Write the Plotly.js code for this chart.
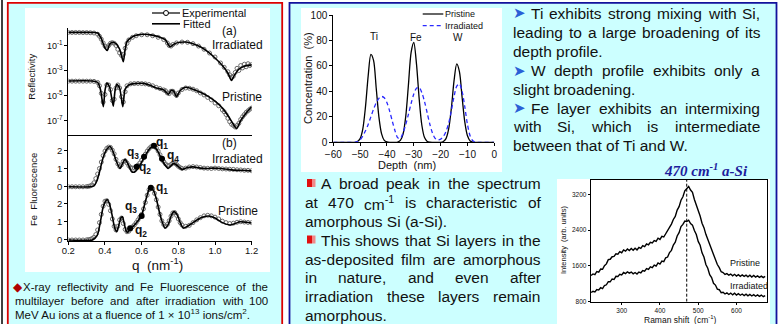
<!DOCTYPE html>
<html>
<head>
<meta charset="utf-8">
<script src="https://cdn.plot.ly/plotly-3.0.1.min.js"></script>
<style>html,body{margin:0;padding:0;background:#fff;}#chart{width:781px;height:324px;}</style>
</head>
<body>
<div id="chart"></div>
<script>
// ---------------- DATA ----------------
// (a) X-ray reflectivity
const reflIrrExpQ = [0.20,0.22,0.24,0.26,0.28,0.30,0.32,0.34,0.36,0.37,0.38,0.39,0.40,0.41,0.42,0.43,0.44,0.45,0.46,0.47,0.48,0.49,0.50,0.51,0.52,0.53,0.55,0.57,0.60,0.63,0.66,0.69,0.72,0.74,0.75,0.76,0.77,0.79,0.82,0.85,0.88,0.91,0.94,0.97,1.00,1.03,1.05,1.07,1.08,1.09,1.10,1.11,1.12,1.13,1.14,1.15,1.16,1.17,1.18,1.19,1.20];
const reflIrrExp = [1.1,1.1,1.1,1.1,1.08,1.08,1.05,1.0,0.8,0.55,0.32,0.16,0.09,0.07,0.1,0.15,0.17,0.15,0.1,0.05,0.025,0.016,0.02,0.06,0.15,0.28,0.45,0.6,0.72,0.72,0.6,0.45,0.3,0.16,0.1,0.09,0.12,0.16,0.19,0.18,0.14,0.09,0.05,0.025,0.012,0.004,0.0018,0.0008,0.00045,0.0003,0.00035,0.0007,0.0015,0.001,0.0025,0.0016,0.0032,0.002,0.0035,0.0025,0.003];
const reflIrrFitQ = [0.20,0.30,0.34,0.36,0.38,0.40,0.413,0.425,0.443,0.46,0.48,0.50,0.51,0.52,0.55,0.58,0.61,0.65,0.70,0.73,0.755,0.78,0.81,0.84,0.88,0.92,0.96,1.00,1.04,1.07,1.09,1.105,1.13,1.16,1.20];
const reflIrrFit = [1.12,1.12,1.1,1.0,0.35,0.063,0.04,0.126,0.18,0.14,0.05,0.005,0.05,0.2,0.5,0.71,0.79,0.71,0.45,0.28,0.079,0.14,0.18,0.19,0.14,0.079,0.032,0.01,0.0025,0.00063,0.00016,0.0004,0.00126,0.0022,0.0028];
const reflPriExpQ = [0.20,0.22,0.24,0.26,0.28,0.30,0.32,0.34,0.36,0.37,0.38,0.39,0.40,0.41,0.42,0.43,0.44,0.45,0.46,0.47,0.48,0.49,0.50,0.51,0.52,0.54,0.56,0.58,0.60,0.62,0.64,0.66,0.68,0.70,0.72,0.73,0.74,0.75,0.76,0.77,0.78,0.79,0.80,0.82,0.84,0.86,0.88,0.90,0.92,0.94,0.96,0.98,1.00,1.02,1.04,1.05,1.06,1.07,1.08,1.09,1.10,1.11,1.12,1.13,1.14,1.15,1.16,1.17,1.18,1.19,1.20];
const reflPriExp = [1.4e-4,1.4e-4,1.4e-4,1.4e-4,1.4e-4,1.4e-4,1.4e-4,1.35e-4,1.1e-4,6e-5,1.5e-5,3e-6,1.2e-5,7e-5,7e-5,3e-5,4e-6,5e-6,4e-5,7e-5,4e-5,8e-6,3e-6,2e-5,6e-5,8.5e-5,9e-5,9.2e-5,9e-5,8.5e-5,7.5e-5,6e-5,4.5e-5,3.6e-5,2.8e-5,2.4e-5,1.6e-5,1.4e-5,2.2e-5,2.2e-5,1.4e-5,1e-5,1.6e-5,3e-5,4e-5,3.8e-5,3.2e-5,2.4e-5,1.6e-5,1.1e-5,7e-6,4.5e-6,2.5e-6,1.5e-6,7e-7,5e-7,3e-7,1.5e-7,8e-8,5e-8,4e-8,3e-8,4e-8,6e-8,1.2e-7,2e-7,3e-7,4.5e-7,6e-7,8e-7,1e-6];
const reflPriFitQ = [0.20,0.33,0.36,0.375,0.391,0.40,0.41,0.425,0.445,0.455,0.465,0.48,0.497,0.51,0.53,0.56,0.61,0.65,0.68,0.72,0.745,0.76,0.775,0.79,0.81,0.84,0.88,0.92,0.96,1.00,1.04,1.07,1.10,1.118,1.14,1.17,1.20];
const reflPriFit = [1.45e-4,1.45e-4,1.12e-4,3.2e-5,1.26e-6,2.5e-5,1e-4,5e-5,1.4e-6,2.5e-5,7.9e-5,4e-5,1.26e-6,3.2e-5,7.1e-5,8.9e-5,9.3e-5,6.3e-5,4e-5,2.8e-5,1.26e-5,2.5e-5,2.2e-5,7.9e-6,2.5e-5,4.5e-5,3.2e-5,1.8e-5,8.9e-6,3.5e-6,1e-6,2.5e-7,5e-8,2.2e-8,1e-7,4e-7,1.26e-6];
const reflTickVals = [1e-1,1e-3,1e-5,1e-7];
const reflTickText = ['10<sup>-1</sup>','10<sup>-3</sup>','10<sup>-5</sup>','10<sup>-7</sup>'];

// (b) Fe fluorescence
const fluExpQ = [0.20,0.22,0.24,0.26,0.28,0.30,0.31,0.32,0.33,0.34,0.35,0.36,0.37,0.38,0.39,0.40,0.41,0.42,0.43,0.44,0.45,0.46,0.47,0.48,0.49,0.50,0.51,0.52,0.53,0.54,0.55,0.56,0.57,0.58,0.59,0.60,0.61,0.62,0.63,0.64,0.65,0.66,0.67,0.68,0.69,0.70,0.71,0.72,0.73,0.74,0.75,0.76,0.77,0.78,0.79,0.80,0.81,0.82,0.84,0.86,0.88,0.90,0.92,0.94,0.96,0.98,1.00,1.02,1.04,1.06,1.08,1.10,1.12,1.14,1.16,1.18,1.20];
const fluIrrExp = [0,0,0,0,0,0.01,0.02,0.05,0.1,0.22,0.45,0.7,1.0,1.35,1.7,1.95,2.1,2.17,2.15,2.0,1.8,1.5,1.25,1.1,1.2,1.38,1.42,1.3,1.15,1.05,1.02,1.03,1.08,1.18,1.3,1.45,1.6,1.78,1.95,2.08,2.18,2.24,2.23,2.12,1.95,1.75,1.55,1.38,1.25,1.17,1.15,1.22,1.3,1.3,1.22,1.12,1.05,1.0,1.02,1.08,1.1,1.08,1.05,1.02,1.01,1.0,1.02,1.0,0.98,0.97,0.96,0.95,0.93,0.92,0.9,0.9,0.88];
const fluPriExp = [0,0,0,0,0,0.01,0.02,0.04,0.08,0.15,0.3,0.55,0.95,1.4,1.85,2.12,2.15,1.95,1.6,1.15,0.75,0.55,0.75,1.1,1.2,0.9,0.58,0.45,0.48,0.6,0.72,0.82,0.95,1.1,1.25,1.4,1.7,2.05,2.45,2.75,2.85,2.8,2.55,2.2,1.8,1.4,1.05,0.85,0.75,0.85,1.05,1.3,1.48,1.5,1.35,1.15,0.95,0.82,0.75,0.8,0.95,1.1,1.22,1.32,1.35,1.32,1.25,1.15,1.03,0.95,0.9,0.92,0.97,1.0,0.98,0.96,0.95];
const fluIrrFitQ = [0.20,0.32,0.34,0.355,0.37,0.39,0.41,0.428,0.445,0.46,0.482,0.497,0.51,0.525,0.546,0.56,0.58,0.60,0.625,0.645,0.664,0.685,0.70,0.72,0.745,0.76,0.775,0.795,0.82,0.85,0.88,0.92,0.955,0.99,1.03,1.07,1.10,1.15,1.20];
const fluIrrFit = [0,0,0.05,0.3,0.8,1.6,2.05,2.2,1.9,1.45,1.0,1.3,1.5,1.25,0.82,0.8,1.0,1.35,1.8,2.1,2.2,2.0,1.7,1.3,1.0,1.15,1.28,1.15,0.95,1.05,1.09,1.02,1.0,1.02,1.0,0.95,0.91,0.9,0.87];
const fluPriFitQ = [0.20,0.33,0.345,0.36,0.375,0.39,0.405,0.413,0.425,0.44,0.452,0.464,0.475,0.487,0.495,0.505,0.515,0.522,0.535,0.555,0.58,0.60,0.62,0.64,0.65,0.665,0.68,0.695,0.71,0.727,0.745,0.762,0.777,0.795,0.81,0.827,0.85,0.88,0.92,0.964,1.00,1.04,1.082,1.11,1.136,1.17,1.20];
const fluPriFit = [0,0,0.1,0.3,1.0,1.8,2.15,2.2,1.95,1.3,0.7,0.45,0.8,1.22,1.27,0.9,0.5,0.42,0.55,0.75,1.05,1.35,2.1,2.75,2.86,2.7,2.25,1.6,1.05,0.65,0.85,1.35,1.55,1.35,0.95,0.65,0.75,0.95,1.2,1.31,1.2,0.95,0.82,0.9,1.0,0.97,0.93];
const qPtsIrr = [0.573,0.613,0.667,0.711];
const vPtsIrr = [1.09,1.64,2.24,1.53];
const qPtsIrrLabels = ['q<sub>2</sub>','q<sub>3</sub>','q<sub>1</sub>','q<sub>4</sub>'];
const qPtsPri = [0.537,0.600,0.650];
const vPtsPri = [0.64,1.31,2.86];
const qPtsPriLabels = ['q<sub>2</sub>','q<sub>3</sub>','q<sub>1</sub>'];
const fluTickVals = [0,1,2];
const fluTickText = ['0','1','2'];
const qTickVals = [0.2,0.4,0.6,0.8,1.0,1.2];

// Concentration depth profile
const depth = [-60,-59,-58,-57,-56,-55,-54,-53,-52,-51,-50,-49,-48,-47,-46,-45,-44,-43,-42,-41,-40,-39,-38,-37,-36,-35,-34,-33,-32,-31,-30,-29,-28,-27,-26,-25,-24,-23,-22,-21,-20,-19,-18,-17,-16,-15,-14,-13,-12,-11,-10,-9,-8,-7,-6,-5,-4,-3,-2,-1,0];
const concPristine = [0,0,0,0,0,0,0,0,0,0.6,2.9,10.6,28,52.2,69,64.3,42.5,19.8,6.6,1.5,0.3,0,0,0,0.2,1.5,6.5,20.4,45.1,70.7,78.4,61.6,34.2,13.4,3.7,0.7,0.1,0,0,0,0,0.6,2.9,10.5,26.8,48.4,61.6,55.5,35.4,16,5.1,1.1,0.2,0,0,0,0,0,0,0,0];
const concIrradiated = [0,0,0,0,0,0,0,0,0,0.5,2,5,9,14,20,26,31,34.5,36,35,31,24.5,16.5,9,3.5,3,7.5,14,22,30.5,38,42.5,43,39,32,23,14,7,3,1.8,2.5,4.5,8.5,15,25,36,44,46,40,28,14,5,1.2,0.2,0,0,0,0,0,0,0];
const elementLabels = ['Ti','Fe','W'];

// Raman
const ramanShift = [220,225,230,235,240,245,250,255,260,265,270,275,280,285,290,295,300,305,310,315,320,325,330,335,340,345,350,355,360,365,370,375,380,385,390,395,400,405,410,415,420,425,430,435,440,445,450,455,460,465,470,475,480,485,490,495,500,505,510,515,520,525,530,535,540,545,550,555,560,565,570,575,580,585,590,595,600,605,610,615,620,625,630,635,640,645,650,655,660,665,670,675];
const ramanPristine = [1385,1420,1405,1475,1462,1530,1525,1605,1645,1740,1748,1805,1812,1870,1862,1918,1895,1958,1930,1978,1942,1988,1948,1995,1958,2012,1990,2052,2030,2090,2072,2128,2115,2168,2150,2218,2192,2262,2246,2322,2372,2478,2535,2638,2705,2848,2925,3068,3145,3278,3318,3376,3295,3245,3085,2975,2835,2715,2555,2455,2305,2195,2050,1945,1820,1735,1630,1560,1470,1452,1408,1428,1392,1418,1378,1412,1372,1404,1368,1398,1366,1394,1358,1392,1352,1386,1350,1378,1344,1372,1338,1366];
const ramanIrradiated = [1005,1032,1018,1072,1060,1112,1092,1162,1178,1248,1245,1308,1296,1368,1365,1412,1396,1452,1428,1468,1438,1462,1422,1452,1418,1462,1446,1498,1482,1538,1522,1578,1562,1618,1598,1668,1642,1708,1696,1782,1798,1898,1948,2068,2128,2268,2342,2478,2528,2602,2592,2622,2548,2512,2392,2302,2148,2062,1892,1798,1632,1548,1402,1338,1212,1172,1082,1068,1002,1012,972,998,962,992,952,988,948,978,944,972,938,968,932,962,928,958,922,952,918,948,912,938];
const ramanPeak = 470;
const ramanTickVals = [300,400,500,600];
const ramanYTickVals = [800,1600,2400,3200];

// Text
const rightText = ['Ti exhibits strong mixing with Si,','leading to a large broadening of its','depth profile.','W depth profile exhibits only a','slight broadening.','Fe layer exhibits an intermixing','with Si, which is intermediate','between that of Ti and W.'];
const middleText = ['A broad peak in the spectrum','at 470 cm<sup>-1</sup> is characteristic of','amorphous Si (a-Si).','This shows that Si layers in the','as-deposited film are amorphous','in nature, and even after','irradiation these layers remain','amorphous.'];
const leftCaption = ['X-ray reflectivity and Fe Fluorescence of the','multilayer before and after irradiation with 100','MeV Au ions at a fluence of 1 × 10<sup>13</sup> ions/cm<sup>2</sup>.'];

// ---------------- LAYOUT HELPERS ----------------
const W = 781, H = 324;
const X = v => v / W;
const Y = v => 1 - v / H;
const FONT = 'Liberation Sans, Arial, sans-serif';
const IRR_OFFSET = 2.91;

const shapes = [];
const annotations = [];
const ctx = document.createElement('canvas').getContext('2d');
function textWidth(html, size, bold) {
  let w = 0;
  html.split(/(<sup>.*?<\/sup>)/).forEach(p => {
    if (!p) return;
    let s = size, t = p;
    if (p.indexOf('<sup>') === 0) { s = size * 0.7; t = p.replace(/<\/?sup>/g, ''); }
    ctx.font = (bold ? 'bold ' : '') + s + 'px "Liberation Sans"';
    w += ctx.measureText(t).width;
  });
  return w;
}
function ann(text, x, y, size, opts) {
  annotations.push(Object.assign({
    text: text, x: X(x), y: Y(y), xref: 'paper', yref: 'paper', showarrow: false,
    xanchor: 'left', yanchor: 'middle', borderpad: 0, borderwidth: 0,
    font: { family: FONT, size: size, color: '#111' }
  }, opts || {}));
}
function textLine(text, x0, x1, y, size, justify) {
  if (!justify) { ann(text, x0, y, size); return; }
  const words = text.split(' ');
  const ws = words.map(w => textWidth(w, size));
  const sum = ws.reduce((a, b) => a + b, 0);
  const gap = (x1 - x0 - sum) / (words.length - 1);
  let x = x0;
  words.forEach((w, i) => { ann(w, x, y, size); x += ws[i] + gap; });
}
function rect(x0, y0, x1, y1, fill, lineColor, lw) {
  shapes.push({ type: 'rect', xref: 'paper', yref: 'paper', layer: 'below',
    x0: X(x0), x1: X(x1), y0: Y(y0), y1: Y(y1), fillcolor: fill,
    line: { color: lineColor || 'rgba(0,0,0,0)', width: lw || 0 } });
}
function pline(x0, y0, x1, y1, color, width, dash) {
  shapes.push({ type: 'line', xref: 'paper', yref: 'paper', layer: 'above',
    x0: X(x0), x1: X(x1), y0: Y(y0), y1: Y(y1), line: { color: color, width: width, dash: dash || 'solid' } });
}

// ---------------- BACKGROUND PANELS ----------------
const CYAN = '#ccffff';
shapes.push({ type: 'line', xref: 'paper', yref: 'paper', layer: 'below', x0: X(2), x1: X(2), y0: Y(0), y1: Y(324), line: { color: '#000', width: 1.5 } });
rect(7.8, 2.8, 282.2, 340, CYAN, '#dd0000', 1.8);
rect(289.5, 2.8, 776.5, 340, CYAN, '#12129c', 1.8);
rect(25, 8, 270, 272, '#ffffff');
rect(301, 8, 502, 172, '#ffffff');
rect(557, 179, 770, 330, '#ffffff');

// ---------------- TEXT BLOCKS ----------------
// right text
const rY = [13.3, 32.3, 51, 70.7, 89.3, 108.3, 126.7, 145.7];
const rJust = [true, true, false, true, false, true, true, false];
const rBullet = [true, false, false, true, false, true, false, false];
rightText.forEach((t, i) => {
  const x0 = rBullet[i] ? 530.7 : 513.3;
  textLine(t, x0, 760, rY[i], 15.5, rJust[i]);
  if (rBullet[i]) ann('➤', 519.5, rY[i], 15, { xanchor: 'center', font: { family: 'DejaVu Sans', size: 15, color: '#2b5fd6' } });
});
// middle text
const mY = [183.5, 202.5, 221, 240, 259.3, 277.5, 296, 315];
const mJust = [true, true, false, true, true, true, true, false];
const mBullet = [true, false, false, true, false, false, false, false];
middleText.forEach((t, i) => {
  const x0 = mBullet[i] ? 320.7 : 305;
  textLine(t, x0, 540.7, mY[i], 15.5, mJust[i]);
  if (mBullet[i]) {
    rect(307, mY[i] - 4.5, 312, mY[i] + 3.5, '#e01010');
    rect(312, mY[i] - 4.5, 315.5, mY[i] + 3.5, '#f08a8a');
  }
});
// left caption
const cY = [287, 300.5, 314];
leftCaption.forEach((t, i) => {
  textLine(t, i === 0 ? 22.7 : 15, 268.3, cY[i], 11.5, i < 2);
});
ann('◆', 17.5, cY[0], 12, { xanchor: 'center', font: { family: 'DejaVu Sans', size: 12, color: '#b00000' } });

// ---------------- LEFT FIGURE LABELS ----------------
const LBL = { family: FONT, size: 12, color: '#111' };
const LEG = { family: FONT, size: 11, color: '#111' };
pline(152, 13, 180, 13, '#000', 1.2);
shapes.push({ type: 'circle', xref: 'paper', yref: 'paper', x0: X(163.5), x1: X(168.5), y0: Y(15.5), y1: Y(10.5), fillcolor: '#fff', line: { color: '#000', width: 1 } });
pline(152, 23.8, 180, 23.8, '#000', 1.6);
ann('Experimental', 181.7, 13, 11, { font: LEG });
ann('Fitted', 183, 24, 11, { font: LEG });
ann('(a)', 229, 31.5, 11.5, { xanchor: 'center', font: LBL });
ann('Irradiated', 237, 44.5, 12, { xanchor: 'center', font: LBL });
ann('Pristine', 242, 97, 12, { xanchor: 'center', font: LBL });
ann('(b)', 229, 143, 11.5, { xanchor: 'center', font: LBL });
ann('Irradiated', 237.5, 159, 12, { xanchor: 'center', font: LBL });
ann('Pristine', 238, 211, 12, { xanchor: 'center', font: LBL });
const qLblIrrPos = [[145, 168.3], [132.5, 152.5], [162, 142.7], [173, 155.8]];
const qLblPriPos = [[141, 231], [130.5, 207], [162, 188]];
qPtsIrrLabels.forEach((t, i) => ann('<b>' + t + '</b>', qLblIrrPos[i][0], qLblIrrPos[i][1], 12, { xanchor: 'center', font: LBL }));
qPtsPriLabels.forEach((t, i) => ann('<b>' + t + '</b>', qLblPriPos[i][0], qLblPriPos[i][1], 12, { xanchor: 'center', font: LBL }));
ann('Reflectivity', 31.7, 77, 9.5, { xanchor: 'center', textangle: -90 });
ann('Fe\u00a0\u00a0Fluorescence', 33, 190, 9.5, { xanchor: 'center', textangle: -90 });
ann('q\u00a0\u00a0(nm<sup>-1</sup>)', 157, 264, 13.5, { xanchor: 'center' });

// ---------------- CONCENTRATION LABELS ----------------
pline(422.7, 14, 443.3, 14, '#000', 1.2);
pline(422.7, 25.7, 443.3, 25.7, '#2a2aff', 1.2, '4px,3px');
ann('Pristine', 445, 14, 9);
ann('Irradiated', 445, 25.7, 9);
const elemPos = [[374, 37], [416, 37.3], [457.7, 37.3]];
elementLabels.forEach((t, i) => ann(t, elemPos[i][0], elemPos[i][1], 10, { xanchor: 'center' }));
ann('Concentration\u00a0\u00a0(%)', 308, 78, 11, { xanchor: 'center', textangle: -90 });
ann('Depth\u00a0\u00a0(nm)', 406.7, 165, 11, { xanchor: 'center' });

// ---------------- RAMAN LABELS ----------------
ann('<b><i>470 cm<sup>-1</sup> a-Si</i></b>', 705.7, 170, 15, { xanchor: 'center', font: { family: 'Liberation Serif, Times New Roman, serif', size: 15, color: '#1c1c9c' } });
ann('Pristine', 745.3, 262.7, 9, { xanchor: 'center' });
ann('Irradiated', 749, 285.7, 9, { xanchor: 'center' });
ann('Intensity\u00a0\u00a0(arb. units)', 563, 240, 7.5, { xanchor: 'center', textangle: -90 });
ann('Raman shift\u00a0\u00a0(cm<sup>-1</sup>)', 680, 319, 8.5, { xanchor: 'center' });
shapes.push({ type: 'line', xref: 'x4', yref: 'y4', x0: ramanPeak, x1: ramanPeak, y0: 800, y1: 3520, line: { color: '#000', width: 1, dash: '3px,2px' } });

// ---------------- TRACES ----------------
const expMarker = { symbol: 'circle-open', size: 4, color: '#6a6a6a', line: { width: 1 } };
const fitLine = { color: '#000', width: 1.6, shape: 'spline', smoothing: 0.6 };
const add = (a, k) => a.map(v => v + k);
const traces = [
  { x: reflIrrExpQ, y: reflIrrExp, xaxis: 'x2', yaxis: 'y', mode: 'markers', marker: expMarker },
  { x: reflPriExpQ, y: reflPriExp, xaxis: 'x2', yaxis: 'y', mode: 'markers', marker: expMarker },
  { x: reflIrrFitQ, y: reflIrrFit, xaxis: 'x2', yaxis: 'y', mode: 'lines', line: fitLine },
  { x: reflPriFitQ, y: reflPriFit, xaxis: 'x2', yaxis: 'y', mode: 'lines', line: fitLine },
  { x: fluExpQ, y: add(fluIrrExp, IRR_OFFSET), xaxis: 'x', yaxis: 'y2', mode: 'markers', marker: expMarker },
  { x: fluExpQ, y: fluPriExp, xaxis: 'x', yaxis: 'y2', mode: 'markers', marker: expMarker },
  { x: fluIrrFitQ, y: add(fluIrrFit, IRR_OFFSET), xaxis: 'x', yaxis: 'y2', mode: 'lines', line: fitLine },
  { x: fluPriFitQ, y: fluPriFit, xaxis: 'x', yaxis: 'y2', mode: 'lines', line: fitLine },
  { x: qPtsIrr, y: add(vPtsIrr, IRR_OFFSET), xaxis: 'x', yaxis: 'y2', mode: 'markers', marker: { color: '#000', size: 6 } },
  { x: qPtsPri, y: vPtsPri, xaxis: 'x', yaxis: 'y2', mode: 'markers', marker: { color: '#000', size: 6 } },
  { x: depth, y: concPristine, xaxis: 'x3', yaxis: 'y3', mode: 'lines', line: { color: '#000', width: 1.3, shape: 'spline', smoothing: 0.8 } },
  { x: depth, y: concIrradiated, xaxis: 'x3', yaxis: 'y3', mode: 'lines', line: { color: '#2a2aff', width: 1.3, dash: '4px,3px', shape: 'spline', smoothing: 0.8 } },
  { x: ramanShift, y: ramanPristine, xaxis: 'x4', yaxis: 'y4', mode: 'lines', line: { color: '#000', width: 1.4 } },
  { x: ramanShift, y: ramanIrradiated, xaxis: 'x4', yaxis: 'y4', mode: 'lines', line: { color: '#000', width: 1.4 } }
];

const axBase = { showline: true, linecolor: '#000', linewidth: 1, ticks: 'outside', ticklen: 3, tickwidth: 1, tickcolor: '#000', showgrid: false, zeroline: false, fixedrange: true };
const layout = {
  width: W, height: H, margin: { l: 0, r: 0, t: 0, b: 0 },
  paper_bgcolor: '#ffffff', plot_bgcolor: 'rgba(0,0,0,0)', showlegend: false,
  font: { family: FONT, color: '#111' },
  xaxis: Object.assign({}, axBase, { domain: [X(68.3), X(251.7)], range: [0.2, 1.2], anchor: 'y2', tickvals: qTickVals, tickformat: '.1f', ticklabelstandoff: -2, tickfont: { size: 9.5 } }),
  xaxis2: Object.assign({}, axBase, { domain: [X(68.3), X(251.7)], range: [0.2, 1.2], anchor: 'y', showticklabels: false, ticks: '' }),
  yaxis: Object.assign({}, axBase, { domain: [Y(135), Y(28)], type: 'log', range: [-8.16, 0.4], anchor: 'x2', tickvals: reflTickVals, ticktext: reflTickText, tickfont: { size: 9 } }),
  yaxis2: Object.assign({}, axBase, { domain: [Y(241), Y(135)], range: [-0.055, 5.74], anchor: 'x',
    tickvals: fluTickVals.concat(add(fluTickVals, IRR_OFFSET)), ticktext: fluTickText.concat(fluTickText), tickfont: { size: 9.5 } }),
  xaxis3: Object.assign({}, axBase, { domain: [X(333.3), X(494.3)], range: [-60, 0], anchor: 'y3', dtick: 10, tickfont: { size: 10 } }),
  yaxis3: Object.assign({}, axBase, { domain: [Y(142.3), Y(15)], range: [0, 100], anchor: 'x3', dtick: 20, tickfont: { size: 10 } }),
  xaxis4: Object.assign({}, axBase, { domain: [X(590.7), X(766.7)], range: [219, 679], anchor: 'y4', tickvals: ramanTickVals, mirror: true, ticklen: 2, tickfont: { size: 6.5 } }),
  yaxis4: Object.assign({}, axBase, { domain: [Y(301.7), Y(180)], range: [800, 3520], anchor: 'x4', tickvals: ramanYTickVals, mirror: true, ticklen: 2, tickfont: { size: 6.5 } }),
  shapes: shapes,
  annotations: annotations
};
Plotly.newPlot('chart', traces, layout, { staticPlot: true, displayModeBar: false });
</script>
</body>
</html>
